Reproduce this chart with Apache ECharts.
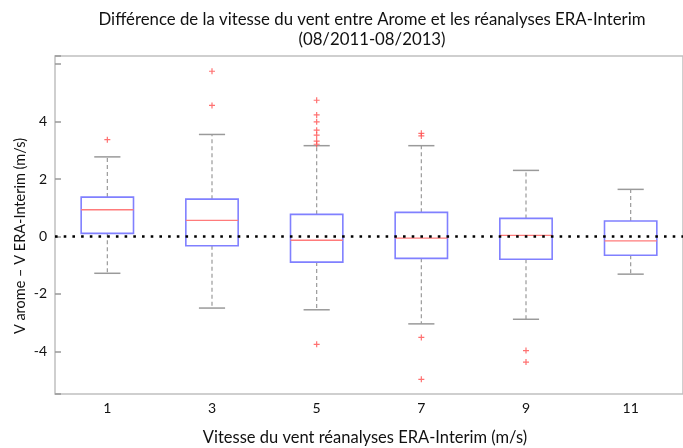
<!DOCTYPE html>
<html>
<head>
<meta charset="utf-8">
<script src="https://cdn.jsdelivr.net/npm/echarts@6/dist/echarts.min.js"></script>
<style>
html,body{margin:0;padding:0;background:#fff;}
#chart{width:683px;height:448px;}
</style>
</head>
<body>
<div id="chart"></div>
<script>
// Categories (wind speed bins, m/s)
var categories = ['1', '3', '5', '7', '9', '11'];
// Box statistics per category
var lowWhisker = [-1.28, -2.49, -2.55, -3.04, -2.88, -1.31];
var q1Values   = [0.11, -0.32, -0.89, -0.76, -0.79, -0.65];
var medians    = [0.93, 0.56, -0.13, -0.06, 0.04, -0.15];
var q3Values   = [1.37, 1.30, 0.77, 0.84, 0.63, 0.54];
var highWhisker= [2.77, 3.55, 3.16, 3.16, 2.30, 1.64];
// Outliers: [categoryIndex, value]
var outliers = [
  [0, 3.37],
  [1, 5.75], [1, 4.56],
  [2, 4.74], [2, 4.23], [2, 3.99], [2, 3.70], [2, 3.53], [2, 3.32], [2, 3.21], [2, -3.75],
  [3, 3.59], [3, 3.50], [3, -3.51], [3, -4.97],
  [4, -3.97], [4, -4.37]
];
var yTickLabels = [-4, -2, 0, 2, 4];

var boxData = categories.map(function (c, i) {
  return [i, lowWhisker[i], q1Values[i], medians[i], q3Values[i], highWhisker[i]];
});

var chart = echarts.init(document.getElementById('chart'), null, {renderer: 'canvas'});
var FONT = 'Lato';

function renderBox(params, api) {
  var idx = api.value(0);
  var low = api.coord([idx, api.value(1)]);
  var q1 = api.coord([idx, api.value(2)]);
  var med = api.coord([idx, api.value(3)]);
  var q3 = api.coord([idx, api.value(4)]);
  var high = api.coord([idx, api.value(5)]);
  var band = api.size([1, 0])[0];
  var x = low[0];
  var bw = band * 0.5;
  var cw = band * 0.25;
  var grey = '#9a9a9a';
  return {
    type: 'group',
    children: [
      {type: 'line', shape: {x1: x, y1: q3[1], x2: x, y2: high[1]},
       style: {stroke: grey, lineWidth: 1.2, lineDash: [4, 3]}},
      {type: 'line', shape: {x1: x, y1: q1[1], x2: x, y2: low[1]},
       style: {stroke: grey, lineWidth: 1.2, lineDash: [4, 3]}},
      {type: 'line', shape: {x1: x - cw / 2, y1: high[1], x2: x + cw / 2, y2: high[1]},
       style: {stroke: grey, lineWidth: 1.5}},
      {type: 'line', shape: {x1: x - cw / 2, y1: low[1], x2: x + cw / 2, y2: low[1]},
       style: {stroke: grey, lineWidth: 1.5}},
      {type: 'rect', shape: {x: x - bw / 2, y: q3[1], width: bw, height: q1[1] - q3[1]},
       style: {fill: '#ffffff', stroke: '#8080ff', lineWidth: 1.6}},
      {type: 'line', shape: {x1: x - bw / 2, y1: med[1], x2: x + bw / 2, y2: med[1]},
       style: {stroke: '#ff7b7b', lineWidth: 1.3}}
    ]
  };
}

chart.setOption({
  animation: false,
  backgroundColor: '#ffffff',
  title: {
    text: 'Différence de la vitesse du vent entre Arome et les réanalyses ERA-Interim\n(08/2011-08/2013)',
    left: 367, top: 5, textAlign: 'center',
    textStyle: {fontFamily: FONT, fontSize: 16.8, fontWeight: 'normal', color: '#111', lineHeight: 20}
  },
  grid: {
    left: 55, top: 56, width: 636, height: 338,
    show: true, borderColor: '#c0c0c0', borderWidth: 1.5, backgroundColor: 'transparent'
  },
  xAxis: {
    type: 'category',
    data: categories,
    boundaryGap: true,
    axisLine: {show: false},
    axisTick: {show: false},
    axisLabel: {fontFamily: FONT, fontSize: 14, color: '#111', margin: 7},
    splitLine: {show: false}
  },
  yAxis: {
    type: 'value',
    min: -5.48, max: 6.28,
    splitNumber: 5,
    axisLine: {show: false},
    axisTick: {show: true, inside: true, length: 6, lineStyle: {color: '#999', width: 1.5}},
    axisLabel: {
      fontFamily: FONT, fontSize: 14, color: '#111', margin: 8,
      formatter: function (v) {
        return yTickLabels.indexOf(Math.round(v * 1000) / 1000) >= 0 ? String(v) : '';
      }
    },
    splitLine: {show: false}
  },
  graphic: [
    {type: 'text', x: 365, y: 438,
     style: {text: 'Vitesse du vent réanalyses ERA-Interim (m/s)', fontFamily: FONT, fontSize: 16.5, fill: '#111',
             align: 'center', verticalAlign: 'middle'}},
    {type: 'text', x: 20, y: 236, rotation: Math.PI / 2,
     style: {text: 'V arome – V ERA-Interim (m/s)', fontFamily: FONT, fontSize: 14.5, fill: '#111',
             align: 'center', verticalAlign: 'middle'}}
  ],
  series: [
    {
      type: 'custom',
      renderItem: renderBox,
      data: boxData,
      encode: {x: 0, y: [1, 2, 3, 4, 5]},
      z: 2
    },
    {
      type: 'scatter',
      data: outliers,
      symbol: 'path://M4,0h2v4h4v2h-4v4h-2v-4h-4v-2h4z',
      symbolSize: 6,
      itemStyle: {color: '#ff4d4d'},
      z: 3,
      markLine: {
        silent: true,
        symbol: 'none',
        label: {show: false},
        lineStyle: {color: '#000', width: 2.6, type: [2.6, 6.1], cap: 'butt'},
        data: [{yAxis: 0}]
      }
    }
  ]
});
</script>
</body>
</html>
